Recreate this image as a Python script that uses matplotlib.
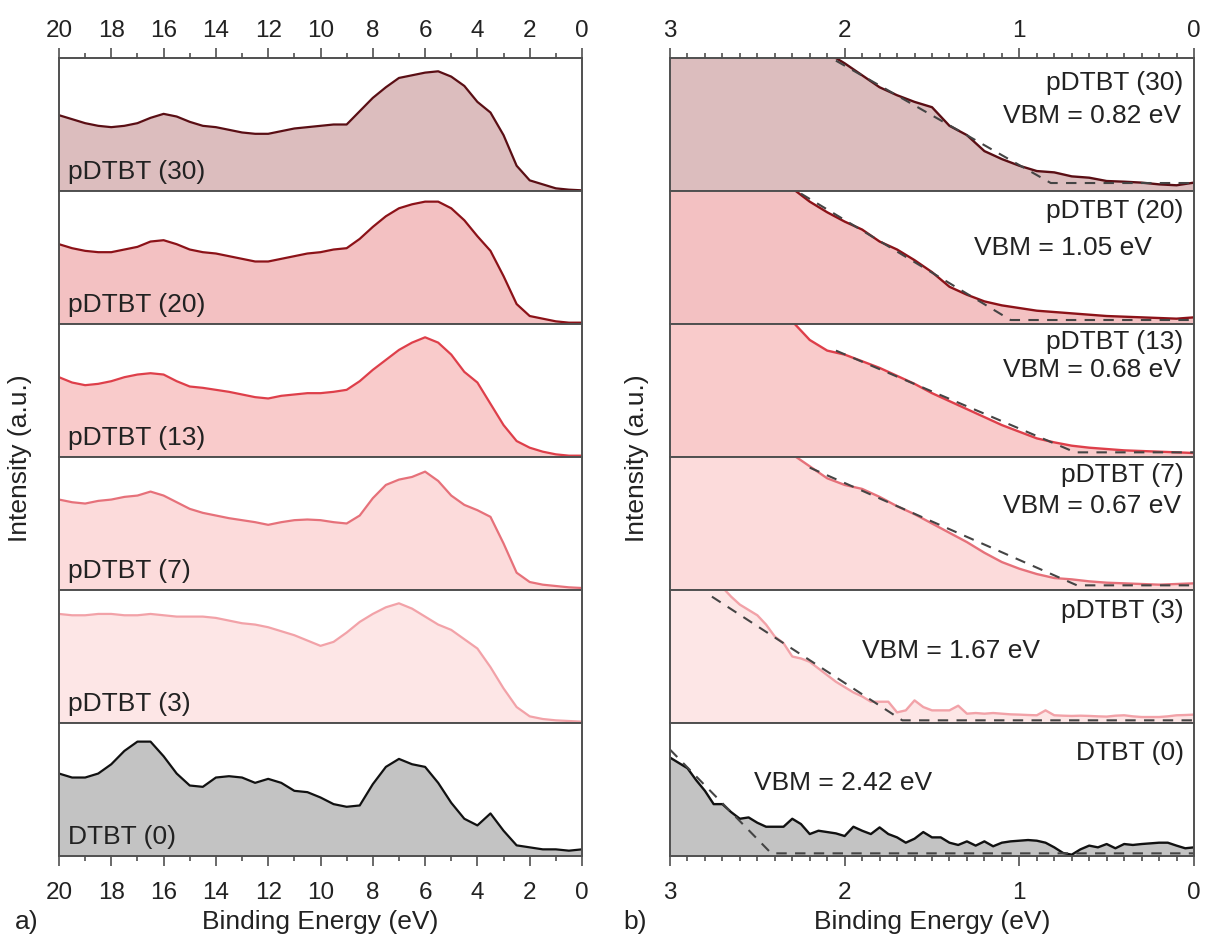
import numpy as np
import matplotlib
matplotlib.use("Agg")
import matplotlib.pyplot as plt
from matplotlib.ticker import MultipleLocator

plt.rcParams['font.family'] = ['Liberation Sans', 'DejaVu Sans']

# ---- data -------------------------------------------------------------
samples = ['pDTBT (30)', 'pDTBT (20)', 'pDTBT (13)', 'pDTBT (7)', 'pDTBT (3)', 'DTBT (0)']
vbm = [0.82, 1.05, 0.68, 0.67, 1.67, 2.42]

line_colors = ['#5a0e14', '#8c1218', '#de3f4a', '#e6717a', '#f2a2a8', '#111111']
fill_colors = ['#dcbdbe', '#f3c1c2', '#f9cbcb', '#fcdbdb', '#fde6e6', '#c3c3c3']

# wide scan, 20 -> 0 eV in 0.5 eV steps
be_wide = np.arange(20, -0.01, -0.5)
wide_30 = [0.57, 0.54, 0.51, 0.49, 0.48, 0.49, 0.51, 0.55, 0.58, 0.56, 0.52, 0.49, 0.48, 0.46,
           0.44, 0.43, 0.43, 0.45, 0.47, 0.48, 0.49, 0.50, 0.50, 0.60, 0.70, 0.78, 0.85, 0.87,
           0.89, 0.90, 0.86, 0.79, 0.67, 0.59, 0.42, 0.19, 0.08, 0.05, 0.02, 0.01, 0.005]
wide_20 = [0.60, 0.57, 0.55, 0.54, 0.54, 0.56, 0.58, 0.62, 0.63, 0.60, 0.56, 0.54, 0.53, 0.51,
           0.49, 0.47, 0.47, 0.49, 0.51, 0.53, 0.54, 0.56, 0.57, 0.64, 0.73, 0.81, 0.87, 0.90,
           0.92, 0.92, 0.87, 0.78, 0.66, 0.55, 0.36, 0.15, 0.06, 0.04, 0.02, 0.01, 0.01]
wide_13 = [0.60, 0.56, 0.54, 0.55, 0.57, 0.60, 0.62, 0.63, 0.62, 0.57, 0.53, 0.52, 0.505, 0.49,
           0.47, 0.45, 0.44, 0.46, 0.47, 0.48, 0.48, 0.49, 0.505, 0.57, 0.655, 0.73, 0.805, 0.86,
           0.90, 0.86, 0.77, 0.64, 0.56, 0.40, 0.24, 0.12, 0.07, 0.04, 0.02, 0.01, 0.01]
wide_7 = [0.68, 0.66, 0.65, 0.67, 0.68, 0.70, 0.71, 0.74, 0.71, 0.66, 0.61, 0.58, 0.56, 0.54,
          0.525, 0.51, 0.49, 0.51, 0.525, 0.53, 0.525, 0.51, 0.50, 0.56, 0.69, 0.79, 0.83, 0.85,
          0.89, 0.82, 0.71, 0.64, 0.60, 0.55, 0.35, 0.13, 0.06, 0.04, 0.03, 0.02, 0.015]
wide_3 = [0.82, 0.81, 0.81, 0.82, 0.82, 0.81, 0.81, 0.82, 0.81, 0.80, 0.80, 0.80, 0.79, 0.77,
          0.75, 0.74, 0.72, 0.69, 0.66, 0.62, 0.58, 0.61, 0.68, 0.76, 0.82, 0.87, 0.90, 0.86,
          0.80, 0.74, 0.70, 0.63, 0.56, 0.42, 0.26, 0.12, 0.05, 0.03, 0.02, 0.015, 0.01]
wide_0 = [0.62, 0.59, 0.59, 0.62, 0.69, 0.79, 0.86, 0.86, 0.75, 0.62, 0.53, 0.52, 0.59, 0.60,
          0.59, 0.55, 0.58, 0.55, 0.49, 0.48, 0.44, 0.39, 0.37, 0.38, 0.54, 0.67, 0.73, 0.69,
          0.67, 0.55, 0.40, 0.28, 0.23, 0.32, 0.19, 0.08, 0.065, 0.05, 0.05, 0.04, 0.05]

# valence band edge, 3 -> 0 eV
be_vb = np.round(np.arange(3, -0.001, -0.1), 2)
be_vb_fine = np.round(np.arange(3, -0.001, -0.05), 2)
vb_30 = [1.6, 1.55, 1.5, 1.45, 1.4, 1.35, 1.28, 1.2, 1.12, 1.04, 0.96, 0.87, 0.78, 0.72, 0.67,
         0.63, 0.49, 0.42, 0.30, 0.24, 0.19, 0.15, 0.14, 0.11, 0.10, 0.075, 0.07, 0.063, 0.05,
         0.043, 0.063]
vb_20 = [1.7, 1.6, 1.5, 1.4, 1.3, 1.2, 1.1, 1.02, 0.92, 0.84, 0.77, 0.71, 0.62, 0.56, 0.48,
         0.39, 0.28, 0.22, 0.17, 0.14, 0.12, 0.10, 0.09, 0.08, 0.07, 0.06, 0.055, 0.05, 0.045,
         0.04, 0.05]
vb_13 = [1.5, 1.45, 1.4, 1.35, 1.28, 1.2, 1.12, 1.02, 0.88, 0.80, 0.77, 0.72, 0.67, 0.61, 0.55,
         0.48, 0.42, 0.36, 0.30, 0.24, 0.19, 0.14, 0.11, 0.085, 0.07, 0.06, 0.05, 0.045, 0.04,
         0.035, 0.03]
vb_7 = [1.6, 1.5, 1.4, 1.3, 1.22, 1.15, 1.08, 1.02, 0.93, 0.84, 0.79, 0.76, 0.70, 0.63, 0.57,
        0.50, 0.43, 0.36, 0.28, 0.21, 0.16, 0.12, 0.09, 0.08, 0.065, 0.055, 0.05, 0.045, 0.04,
        0.045, 0.05]
vb_3 = [1.3, 1.25, 1.2, 1.15, 1.1, 1.06, 1.02, 0.95, 0.89, 0.85, 0.81, 0.74, 0.65, 0.60, 0.50,
        0.485, 0.46, 0.41, 0.36, 0.31, 0.27, 0.23, 0.20, 0.16, 0.16, 0.16, 0.08, 0.095, 0.17,
        0.12, 0.095, 0.095, 0.095, 0.13, 0.07, 0.075, 0.07, 0.075, 0.07, 0.065, 0.063, 0.06,
        0.058, 0.095, 0.058, 0.055, 0.053, 0.055, 0.053, 0.05, 0.048, 0.055, 0.058, 0.05, 0.045,
        0.045, 0.045, 0.05, 0.058, 0.06, 0.063]
vb_0 = [0.74, 0.70, 0.66, 0.57, 0.49, 0.39, 0.39, 0.33, 0.28, 0.29, 0.25, 0.22, 0.22, 0.22,
        0.28, 0.24, 0.165, 0.19, 0.18, 0.17, 0.15, 0.22, 0.19, 0.165, 0.215, 0.165, 0.14, 0.10,
        0.13, 0.18, 0.14, 0.14, 0.10, 0.083, 0.11, 0.078, 0.11, 0.073, 0.10, 0.11, 0.115, 0.12,
        0.115, 0.10, 0.065, 0.023, 0.01, 0.05, 0.078, 0.065, 0.09, 0.058, 0.09, 0.083, 0.09,
        0.095, 0.10, 0.10, 0.078, 0.058, 0.065]

# linear edge fits: start energy, start level, baseline level (they meet at the VBM)
fit_start = [2.05, 2.25, 2.05, 2.2, 2.76, 3.0]
fit_level = [0.98, 0.98, 0.80, 0.92, 0.95, 0.80]
fit_base = [0.06, 0.03, 0.035, 0.035, 0.02, 0.02]

wide = [wide_30, wide_20, wide_13, wide_7, wide_3, wide_0]
vb = [(be_vb, vb_30), (be_vb, vb_20), (be_vb, vb_13), (be_vb, vb_7),
      (be_vb_fine, vb_3), (be_vb_fine, vb_0)]

# text placement in the right column (x, y, ha) in axes fraction
vbm_pos = [(0.975, 0.57, 'right'), (0.75, 0.58, 'center'), (0.975, 0.66, 'right'),
           (0.975, 0.64, 'right'), (0.537, 0.55, 'center'), (0.33, 0.555, 'center')]
name_y = [0.82, 0.86, 0.87, 0.87, 0.85, 0.78]

# ---- figure -----------------------------------------------------------
W, H = 1205, 937
fig = plt.figure(figsize=(W / 100, H / 100), dpi=100)

top, bottom = 1 - 59 / H, 1 - 857 / H
ph = (top - bottom) / 6
spine_col = '#505050'
txt_col = '#222222'
fs = 19
tfs = 17.5

for i in range(6):
    y0 = top - (i + 1) * ph
    axl = fig.add_axes([59 / W, y0, 523 / W, ph])
    axr = fig.add_axes([670 / W, y0, 524 / W, ph])

    # left: wide spectra
    axl.fill_between(be_wide, 0, wide[i], color=fill_colors[i], lw=0)
    axl.plot(be_wide, wide[i], color=line_colors[i], lw=1.6)
    axl.set_xlim(20, 0)
    axl.set_ylim(0, 1)
    axl.text(0.018, 0.15, samples[i], transform=axl.transAxes, fontsize=fs,
             color=txt_col, va='center', ha='left')
    axl.xaxis.set_major_locator(MultipleLocator(2))
    axl.xaxis.set_minor_locator(MultipleLocator(1))

    # right: valence band onset
    xv, yv = vb[i]
    axr.fill_between(xv, 0, yv, color=fill_colors[i], lw=0)
    axr.plot(xv, yv, color=line_colors[i], lw=1.7)
    axr.plot([fit_start[i], vbm[i], 0], [fit_level[i], fit_base[i], fit_base[i]],
             ls=(0, (5, 4)), color='#444444', lw=1.5)
    axr.set_xlim(3, 0)
    axr.set_ylim(0, 1)
    axr.text(0.98, name_y[i], samples[i], transform=axr.transAxes, fontsize=fs,
             color=txt_col, va='center', ha='right')
    px, py, pha = vbm_pos[i]
    axr.text(px, py, 'VBM = %.2f eV' % vbm[i], transform=axr.transAxes, fontsize=fs,
             color=txt_col, va='center', ha=pha)
    axr.xaxis.set_major_locator(MultipleLocator(1))
    axr.xaxis.set_minor_locator(MultipleLocator(0.1))

    for ax in (axl, axr):
        ax.set_yticks([])
        for s in ax.spines.values():
            s.set_color(spine_col)
            s.set_linewidth(1.4)
            s.set_zorder(5)
        ax.tick_params(axis='x', which='both', direction='out', colors=spine_col,
                       labelcolor=txt_col, labelsize=tfs, width=1.2)
        ax.tick_params(axis='x', which='major', length=7)
        ax.tick_params(axis='x', which='minor', length=3.5)
        if i == 0:
            ax.tick_params(axis='x', which='both', top=True, labeltop=True,
                           bottom=False, labelbottom=False, pad=5)
        elif i == 5:
            ax.tick_params(axis='x', which='both', top=False, labeltop=False,
                           bottom=True, labelbottom=True, pad=11)
        else:
            ax.tick_params(axis='x', which='both', top=False, labeltop=False,
                           bottom=False, labelbottom=False)

mid = (top + bottom) / 2
fig.text(0.017, mid, 'Intensity (a.u.)', rotation=90, va='center', ha='center',
         fontsize=fs, color=txt_col)
fig.text(0.529, mid, 'Intensity (a.u.)', rotation=90, va='center', ha='center',
         fontsize=fs, color=txt_col)
fig.text((59 + 523 / 2) / W, 1 - 922 / H, 'Binding Energy (eV)', va='center', ha='center',
         fontsize=fs, color=txt_col)
fig.text((670 + 524 / 2) / W, 1 - 922 / H, 'Binding Energy (eV)', va='center', ha='center',
         fontsize=fs, color=txt_col)
fig.text(0.012, 1 - 922 / H, 'a)', va='center', ha='left', fontsize=fs, color=txt_col)
fig.text(0.517, 1 - 922 / H, 'b)', va='center', ha='left', fontsize=fs, color=txt_col)

fig.savefig('out.png', dpi=100, facecolor='white')
